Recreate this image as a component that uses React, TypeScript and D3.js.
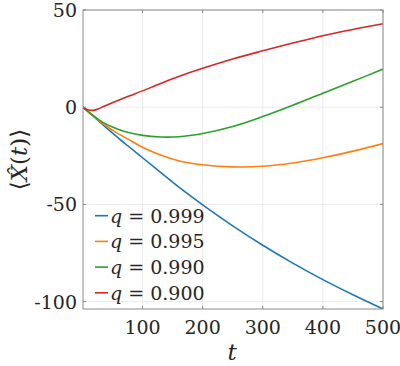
import React from "react";
import * as d3 from "d3";

const tVals = [1, 8, 15, 25, 34, 50, 62, 75, 100, 130, 160, 200, 250, 300, 350, 400, 450, 500];
const blue = [0, -1.9, -3.8, -6.5, -9.0, -13.2, -16.4, -19.7, -26.0, -33.5, -41, -50.2, -61, -71, -80.2, -88.7, -96.5, -103.8];
const orange = [0, -1.9, -3.7, -6.2, -8.5, -11.8, -14.1, -16.3, -20.6, -24.6, -27.5, -29.6, -30.7, -30.4, -28.7, -26, -22.6, -18.7];
const green = [0, -1.9, -3.6, -5.9, -7.8, -10.2, -11.6, -12.9, -14.5, -15.3, -15.2, -13.5, -9.9, -4.8, 1.0, 7.2, 13.3, 19.6];
const tRed = [1, 5, 10, 15, 20, 27, 34, 45, 60, 80, 100, 130, 160, 200, 250, 300, 350, 400, 450, 500];
const red = [0, -0.8, -1.4, -1.65, -1.5, -0.8, 0.2, 1.7, 3.6, 6.0, 8.4, 12.2, 15.8, 20, 24.8, 29, 33, 36.8, 40, 42.9];

const seriesNames = ["0.999", "0.995", "0.990", "0.900"];
const seriesColors = ["#1f77b4", "#ff7f0e", "#2ca02c", "#d62728"];
const seriesData = [blue, orange, green, red];
const seriesT = [tVals, tVals, tVals, tRed];

const xTicks = [100, 200, 300, 400, 500];
const yTicks = [-100, -50, 0, 50];
const yTickLabels = ["-100", "-50", "0", "50"];

const W = 400, H = 366;
const L = 83, R = 383, T = 10, B = 309;
const FONT = "DejaVu Serif";
const txt: React.CSSProperties = { fontFamily: FONT };

export default function App() {
  const x = d3.scaleLinear().domain([1, 500]).range([L, R]);
  const y = d3.scaleLinear().domain([-103.8, 50]).range([B, T]);
  const makeLine = (ts: number[]) =>
    d3
      .line<number>()
      .x((_, i) => x(ts[i]))
      .y((d) => y(d))
      .curve(d3.curveCatmullRom.alpha(0.5));

  return (
    <svg width={W} height={H} style={{ position: "absolute", left: 0, top: 0 }}>
      <rect x={0} y={0} width={W} height={H} fill="#fff" />
      {xTicks.map((t) => (
        <line key={"gx" + t} x1={x(t)} x2={x(t)} y1={T} y2={B} stroke="#ebebeb" strokeWidth={1} />
      ))}
      {yTicks.map((t) => (
        <line key={"gy" + t} x1={L} x2={R} y1={y(t)} y2={y(t)} stroke="#ebebeb" strokeWidth={1} />
      ))}
      <defs>
        <clipPath id="clip">
          <rect x={L} y={T} width={R - L} height={B - T} />
        </clipPath>
      </defs>
      <g clipPath="url(#clip)">
        {seriesData.map((s, i) => (
          <path key={i} d={makeLine(seriesT[i])(s) || ""} fill="none" stroke={seriesColors[i]} strokeWidth={1.6} />
        ))}
      </g>
      <rect x={L} y={T} width={R - L} height={B - T} fill="none" stroke="#8a8a8a" strokeWidth={1} />
      {xTicks.map((t) => (
        <g key={"tx" + t}>
          <line x1={x(t)} x2={x(t)} y1={B} y2={B - 3} stroke="#8a8a8a" />
          <line x1={x(t)} x2={x(t)} y1={T} y2={T + 3} stroke="#8a8a8a" />
          <text x={x(t)} y={334} textAnchor="middle" fontSize={19} fill="#262626" style={txt}>
            {t}
          </text>
        </g>
      ))}
      {yTicks.map((t, i) => (
        <g key={"ty" + t}>
          <line x1={L} x2={L + 3} y1={y(t)} y2={y(t)} stroke="#8a8a8a" />
          <line x1={R} x2={R - 3} y1={y(t)} y2={y(t)} stroke="#8a8a8a" />
          <text x={L - 6} y={y(t) + 7} textAnchor="end" fontSize={19} fill="#262626" style={txt}>
            {yTickLabels[i]}
          </text>
        </g>
      ))}
      <text x={232} y={360} textAnchor="middle" fontSize={23} fontStyle="italic" fill="#262626" style={txt}>
        t
      </text>
      <g transform={`translate(27, ${(T + B) / 2}) rotate(-90)`}>
        <text x={0} y={0} textAnchor="middle" fontSize={23} fill="#262626" style={txt}>
          <tspan>⟨</tspan>
          <tspan fontStyle="italic">X̂</tspan>
          <tspan>(</tspan>
          <tspan fontStyle="italic">t</tspan>
          <tspan>)⟩</tspan>
        </text>
      </g>
      {seriesNames.map((n, i) => {
        const ly = 215.7 + i * 25.7;
        return (
          <g key={"lg" + i}>
            <line x1={95} x2={108} y1={ly} y2={ly} stroke={seriesColors[i]} strokeWidth={1.6} />
            <text x={110} y={ly + 7} fontSize={19} fill="#262626" style={txt}>
              <tspan fontStyle="italic">q</tspan>
              <tspan> = {n}</tspan>
            </text>
          </g>
        );
      })}
    </svg>
  );
}
